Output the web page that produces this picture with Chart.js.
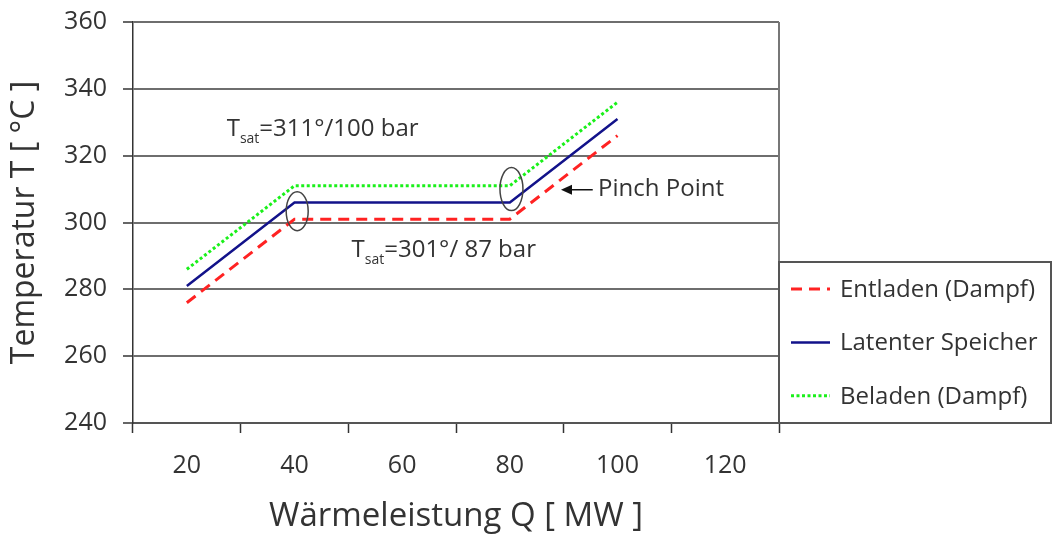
<!DOCTYPE html>
<html>
<head>
<meta charset="utf-8">
<script src="https://cdn.jsdelivr.net/npm/chart.js@4"></script>
<style>
html, body { margin: 0; padding: 0; background: #fff; }
</style>
</head>
<body>
<canvas id="pinchChart" width="1052" height="538"></canvas>
<script>
// Wärmeleistung (MW) and temperatures (°C)
const heatMW = [20, 40, 80, 100];
const entladen = [276, 301, 301, 326];
const latent = [281, 306, 306, 331];
const beladen = [286, 311, 311, 336];
const xTickLabels = [20, 40, 60, 80, 100, 120];
const yTicks = [240, 260, 280, 300, 320, 340, 360];

const FONT = "'Open Sans', 'Noto Sans', sans-serif";
const TEXT = '#333';

function toPoints(values) {
    return heatMW.map(function(q, i) { return { x: q, y: values[i] }; });
}

// T_sat label with subscript
function drawTsat(ctx, px, py, rest) {
    ctx.font = '24px ' + FONT;
    ctx.fillText('T', px, py);
    let w = ctx.measureText('T').width;
    ctx.font = '14px ' + FONT;
    ctx.fillText('sat', px + w, py + 7);
    w += ctx.measureText('sat').width;
    ctx.font = '24px ' + FONT;
    ctx.fillText(rest, px + w, py);
}

const pinchNotes = {
    id: 'pinchNotes',
    afterDatasetsDraw(chart) {
        const ctx = chart.ctx;
        const xs = chart.scales.x;
        const ys = chart.scales.y;
        const area = chart.chartArea;
        ctx.save();

        // right frame of plot area
        ctx.strokeStyle = '#777';
        ctx.lineWidth = 2;
        ctx.beginPath();
        ctx.moveTo(area.right, area.top);
        ctx.lineTo(area.right, area.bottom);
        ctx.stroke();

        // ellipses around the kinks
        ctx.strokeStyle = '#444';
        ctx.lineWidth = 1.5;
        [[40.5, 303.4, 11, 19.5], [80.3, 310, 11.5, 21.5]].forEach(function(e) {
            ctx.beginPath();
            ctx.ellipse(xs.getPixelForValue(e[0]), ys.getPixelForValue(e[1]), e[2], e[3], 0, 0, Math.PI * 2);
            ctx.stroke();
        });

        ctx.fillStyle = TEXT;
        ctx.textBaseline = 'alphabetic';
        ctx.textAlign = 'left';
        drawTsat(ctx, xs.getPixelForValue(27.4), ys.getPixelForValue(325.8), '=311°/100 bar');
        drawTsat(ctx, xs.getPixelForValue(50.6), ys.getPixelForValue(289.8), '=301°/ 87 bar');

        // Pinch Point arrow
        const ay = ys.getPixelForValue(309.8);
        const ax0 = xs.getPixelForValue(95.4);
        const ax1 = xs.getPixelForValue(89.5);
        ctx.strokeStyle = '#111';
        ctx.fillStyle = '#111';
        ctx.lineWidth = 1.5;
        ctx.beginPath();
        ctx.moveTo(ax0, ay);
        ctx.lineTo(ax1 + 6, ay);
        ctx.stroke();
        ctx.beginPath();
        ctx.moveTo(ax1, ay);
        ctx.lineTo(ax1 + 11, ay - 5);
        ctx.lineTo(ax1 + 11, ay + 5);
        ctx.closePath();
        ctx.fill();
        ctx.fillStyle = TEXT;
        ctx.font = '24px ' + FONT;
        ctx.fillText('Pinch Point', xs.getPixelForValue(96.4), ys.getPixelForValue(307.8));

        // legend box
        const lx = area.right, ly = 262, lr = 1051, lb = area.bottom;
        ctx.strokeStyle = '#555';
        ctx.lineWidth = 2;
        ctx.strokeRect(lx, ly, lr - lx, lb - ly);
        chart.data.datasets.forEach(function(ds, i) {
            const rowY = 289 + i * 53.4;
            ctx.save();
            ctx.strokeStyle = ds.borderColor;
            ctx.lineWidth = ds.borderWidth;
            ctx.setLineDash(ds.borderDash || []);
            ctx.beginPath();
            ctx.moveTo(791, rowY);
            ctx.lineTo(830, rowY);
            ctx.stroke();
            ctx.restore();
            ctx.fillStyle = TEXT;
            ctx.font = '24px ' + FONT;
            ctx.fillText(ds.label, 840, rowY + 8);
        });

        ctx.restore();
    }
};

Chart.defaults.font.family = FONT;
Chart.defaults.color = TEXT;

const pinchChart = new Chart(document.getElementById('pinchChart'), {
    type: 'line',
    data: {
        datasets: [{
            label: 'Entladen (Dampf)',
            data: toPoints(entladen),
            borderColor: '#ff2222',
            borderWidth: 3,
            borderDash: [11, 7],
            pointRadius: 0,
            tension: 0
        }, {
            label: 'Latenter Speicher',
            data: toPoints(latent),
            borderColor: '#12128a',
            borderWidth: 2.5,
            pointRadius: 0,
            tension: 0
        }, {
            label: 'Beladen (Dampf)',
            data: toPoints(beladen),
            borderColor: '#1af01a',
            borderWidth: 3,
            borderDash: [3, 2.5],
            pointRadius: 0,
            tension: 0
        }]
    },
    options: {
        responsive: false,
        animation: false,
        layout: { padding: { left: 6, top: 22, right: 273, bottom: 2 } },
        plugins: {
            legend: { display: false },
            tooltip: { enabled: false }
        },
        scales: {
            x: {
                type: 'linear',
                min: 10,
                max: 130,
                afterBuildTicks: function(axis) { axis.ticks = xTickLabels.map(function(v) { return { value: v }; }); },
                afterFit: function(axis) { axis.height = 113; },
                grid: { offset: true, drawOnChartArea: false, drawTicks: true, tickLength: 10, tickColor: '#333', tickWidth: 1.5 },
                border: { display: true, color: '#555', width: 2 },
                ticks: { padding: 18, color: TEXT, font: { size: 25 }, maxRotation: 0, autoSkip: false },
                title: { display: true, text: 'Wärmeleistung Q [ MW ]', color: TEXT, font: { size: 33 }, padding: { top: 0, bottom: 0 } }
            },
            y: {
                min: 240,
                max: 360,
                afterBuildTicks: function(axis) { axis.ticks = yTicks.map(function(v) { return { value: v }; }); },
                afterFit: function(axis) {
                    axis.width = 127;
                    axis.paddingTop = 0;
                    axis.paddingBottom = 0;
                },
                grid: { color: '#6e6e6e', lineWidth: 2, tickLength: 10, tickColor: '#333', tickWidth: 1.5 },
                border: { color: '#333', width: 1.5 },
                ticks: { padding: 16, color: TEXT, font: { size: 25 } },
                title: { display: true, text: 'Temperatur T [ °C ]', color: TEXT, font: { size: 32 }, padding: 0 }
            }
        }
    },
    plugins: [pinchNotes]
});
</script>
</body>
</html>
